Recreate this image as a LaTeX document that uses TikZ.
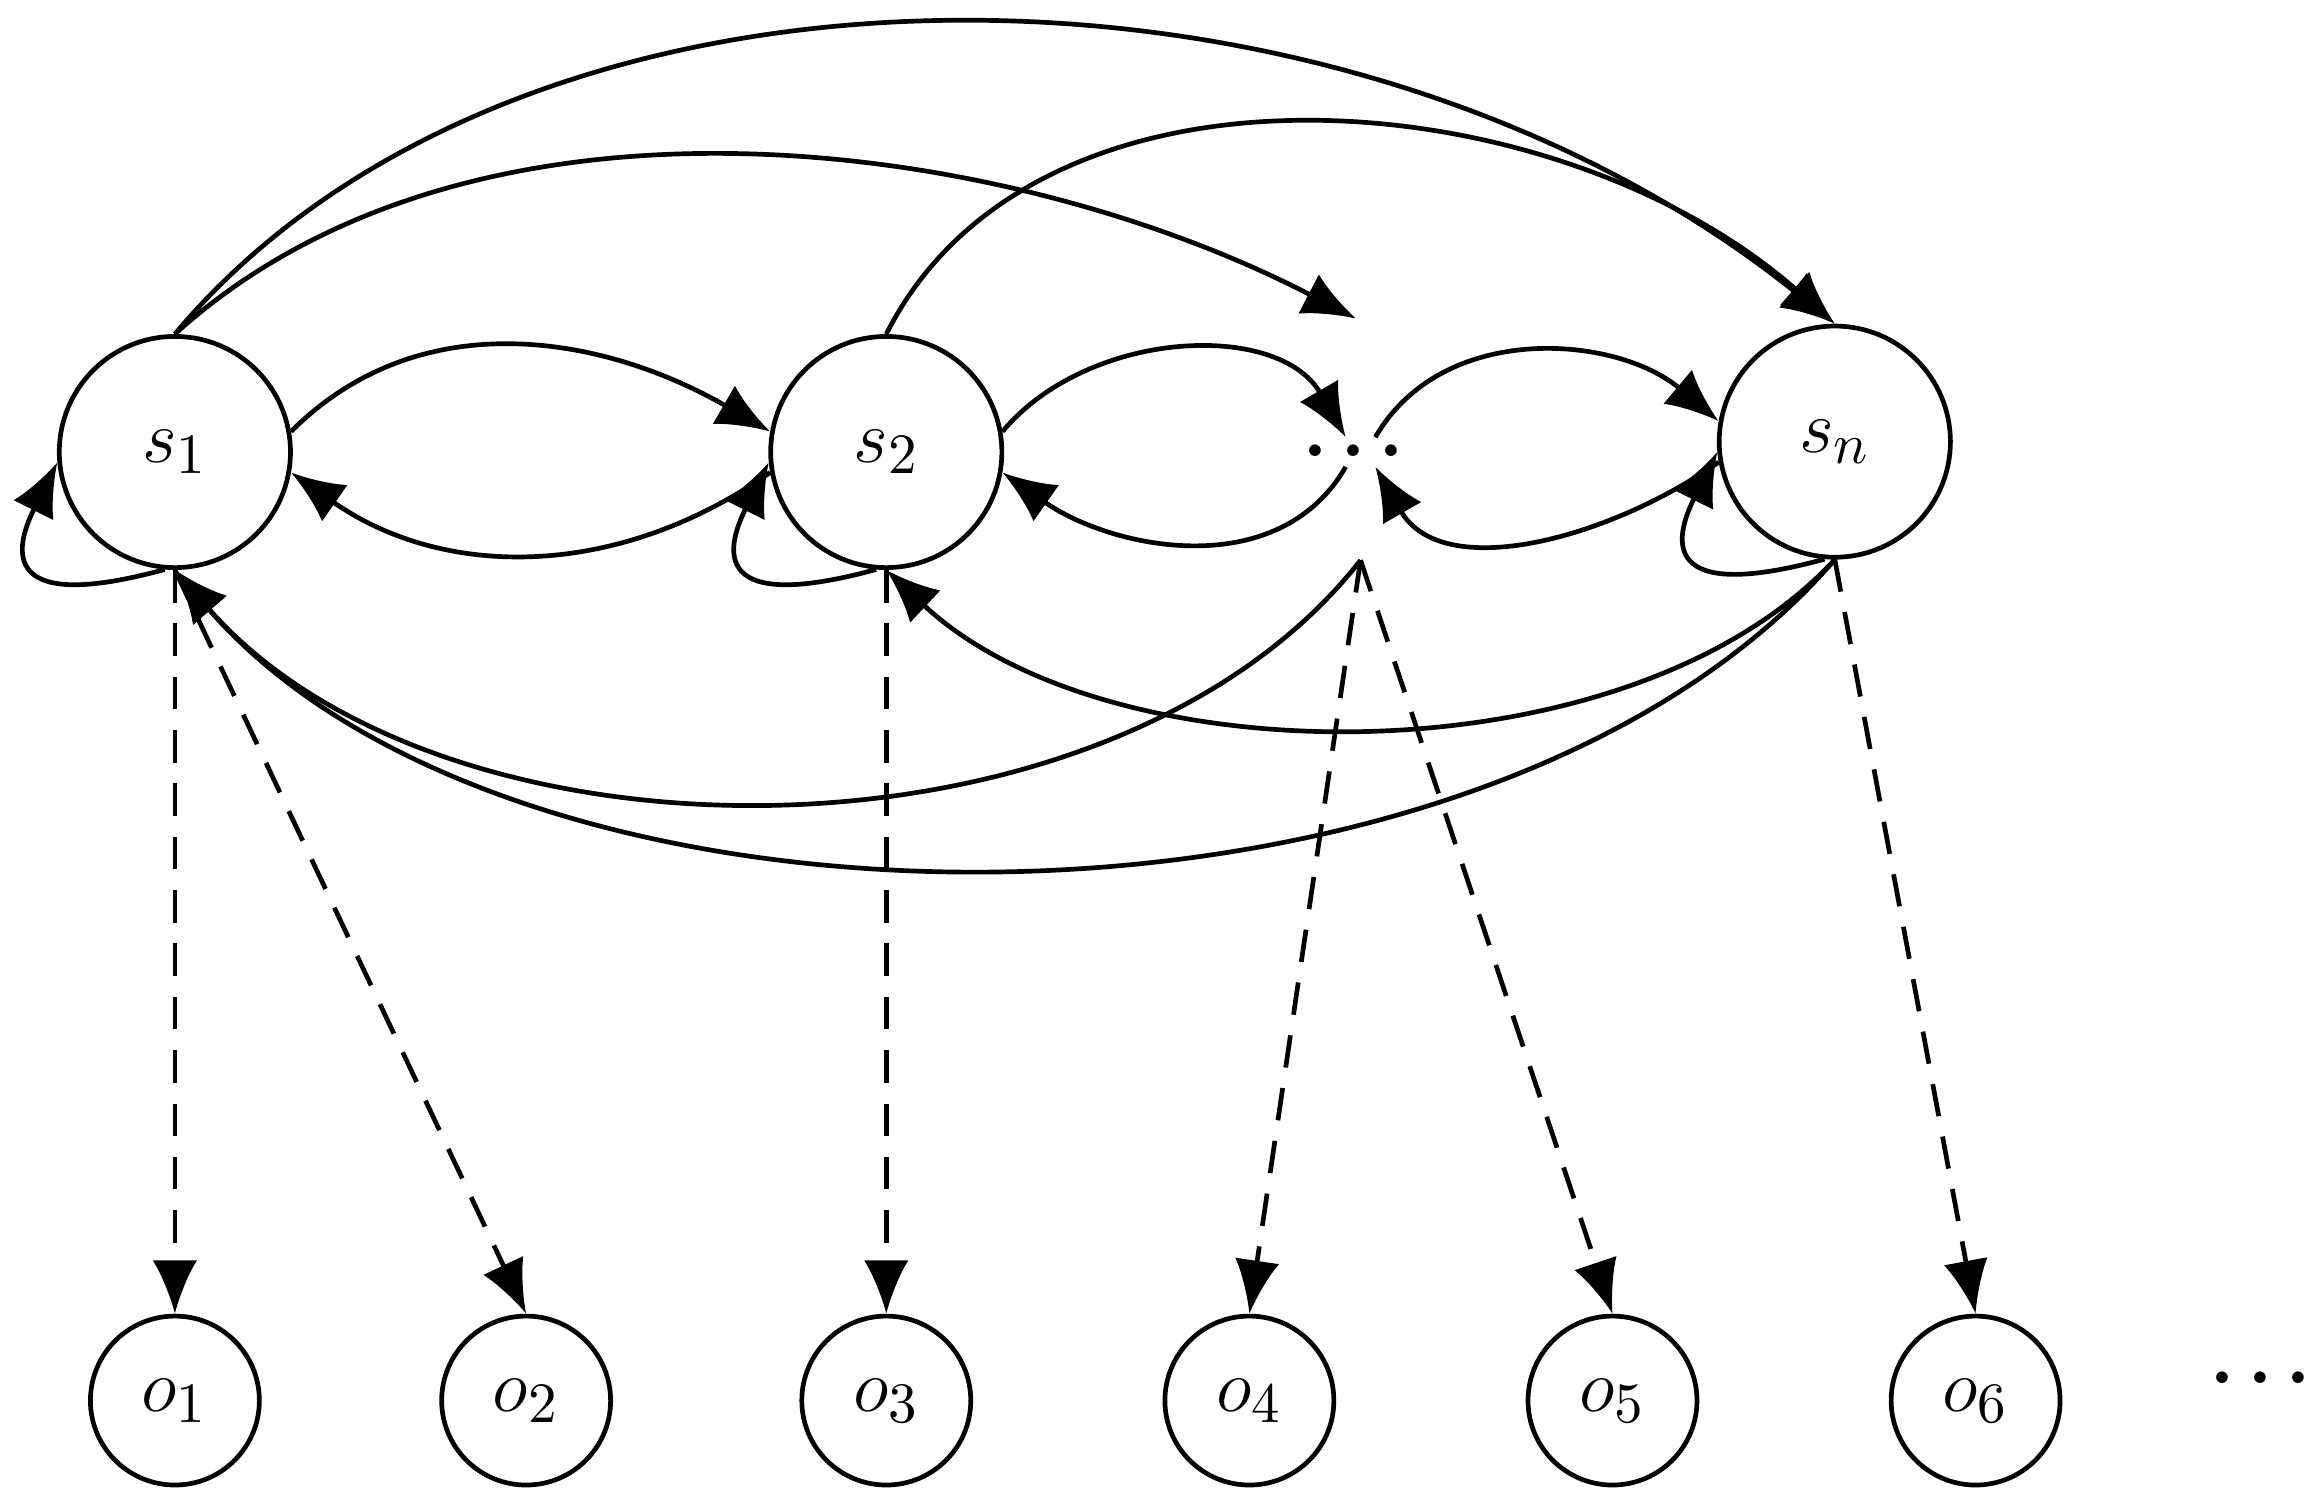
\documentclass[tikz,border=0pt]{standalone}
\usepackage{amsmath}
\usetikzlibrary{arrows.meta}
\begin{document}
\begin{tikzpicture}[>={Latex[length=3.6mm,width=3mm]},line width=0.9pt,
    state/.style={draw,circle,minimum size=1.56cm,inner sep=0pt,font=\fontsize{15}{17}\selectfont},
    obs/.style={draw,circle,minimum size=1.14cm,inner sep=0pt,font=\fontsize{15}{17}\selectfont},
    emit/.style={->,dashed,dash pattern=on 2.2mm off 1.4mm}]

        \useasboundingbox (0,0) rectangle (15.6,10.13);

        % hidden states
        \node[state] (s1) at (1.18,7.08) {$s_1$};
        \node[state] (s2) at (5.98,7.08) {$s_2$};
        \node[inner sep=0pt,font=\Large] (dots) at (9.18,7.08) {$\boldsymbol{\cdots}$};
        \node[state] (sn) at (12.38,7.15) {$s_n$};
        \coordinate (dtop) at (9.15,7.98);
        \coordinate (dbot) at (9.18,6.35);

        % observations
        \foreach \i/\x in {1/1.18,2/3.55,3/5.98,4/8.43,5/10.88,6/13.33}
                \node[obs] (o\i) at (\x,0.68) {$o_{\i}$};
        \node[font=\Large] at (15.3,0.83) {$\boldsymbol{\cdots}$};

        % neighbour transitions
        \draw[->] (s1.10) to[out=45,in=150] (s2.170);
        \draw[->] (s2.190) to[out=215,in=-35] (s1.350);
        \draw[->] (s2.10) to[out=50,in=120] ([xshift=-1mm,yshift=1mm]dots.center);
        \draw[->] ([xshift=-1mm,yshift=-1mm]dots.center) to[out=240,in=-35] (s2.350);
        \draw[->] ([xshift=1mm,yshift=1mm]dots.center) to[out=60,in=140] (sn.170);
        \draw[->] (sn.190) to[out=215,in=-60] ([xshift=1mm,yshift=-1mm]dots.center);

        % self loops
        \foreach \s in {s1,s2,sn}
                \draw[->] (\s.265) .. controls +(-1.1,-0.3) and +(-0.3,-0.6) .. (\s.185);

        % long jumps
        \draw[->] (s1.north) .. controls (3.2,9.71) and (6.8,9.2) .. (dtop);
        \draw[->] (s1.north) .. controls (3.5,10.65) and (9.0,10.65) .. (sn.north);
        \draw[->] (s2.north) .. controls (7.0,9.9) and (10.5,9.6) .. (sn.north);
        \draw[->] (dbot) .. controls (7.5,4.2) and (3.0,4.2) .. (s1.south);
        \draw[->] (sn.south) .. controls (10.0,3.6) and (3.5,3.6) .. (s1.south);
        \draw[->] (sn.south) .. controls (11.0,4.86) and (7.5,4.86) .. (s2.south);

        % emissions
        \draw[emit] (s1.south) -- (o1.north);
        \draw[emit] (s1.south) -- (o2.north);
        \draw[emit] (s2.south) -- (o3.north);
        \draw[emit] (dbot) -- (o4.north);
        \draw[emit] (dbot) -- (o5.north);
        \draw[emit] (sn.south) -- (o6.north);
\end{tikzpicture}
\end{document}
